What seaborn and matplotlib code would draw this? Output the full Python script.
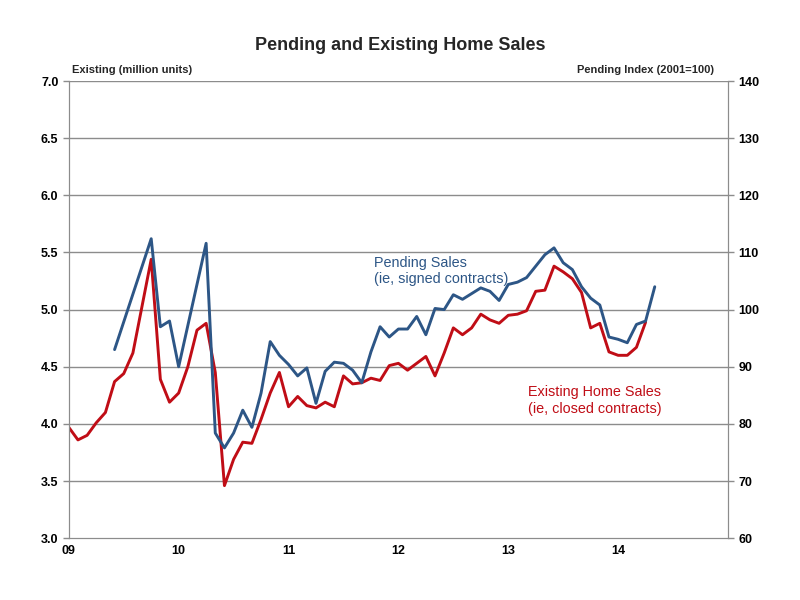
import pandas as pd
import numpy as np
import matplotlib.pyplot as plt
import seaborn as sns

# monthly values, month 0 = Jan 2009
existing = [3.97, 3.86, 3.90, 4.01, 4.10, 4.37, 4.44, 4.62, 5.03, 5.44,
            4.39, 4.19, 4.27, 4.50, 4.82, 4.88, 4.45, 3.46, 3.69, 3.84,
            3.83, 4.04, 4.27, 4.45, 4.15, 4.24, 4.16, 4.14, 4.19, 4.15,
            4.42, 4.35, 4.36, 4.40, 4.38, 4.51, 4.53, 4.47, 4.53, 4.59,
            4.42, 4.62, 4.84, 4.78, 4.84, 4.96, 4.91, 4.88, 4.95, 4.96,
            4.99, 5.16, 5.17, 5.38, 5.33, 5.27, 5.15, 4.84, 4.88, 4.63,
            4.60, 4.60, 4.67, 4.89]

# pending index starts Jun 2009, a few months missing (line joins across them)
pending_start = 5
pending = [93.0, np.nan, np.nan, np.nan, 112.4, 97.0, 98.0, 90.0, np.nan, np.nan,
           111.6, 78.4, 75.8, 78.4, 82.4, 79.4, 85.4, 94.4, 92.0, 90.4,
           88.4, 89.8, 83.6, 89.2, 90.8, 90.6, 89.4, 87.2, 92.6, 97.0,
           95.2, 96.6, 96.6, 98.8, 95.6, 100.2, 100.0, 102.6, 101.8, 102.8,
           103.8, 103.2, 101.6, 104.4, 104.8, 105.6, 107.6, 109.6, 110.8, 108.2,
           107.0, 104.0, 102.0, 100.8, 95.2, 94.8, 94.2, 97.4, 98.0, 104.0]

year_labels = ['09', '10', '11', '12', '13', '14']
left_ticks = [3.0, 3.5, 4.0, 4.5, 5.0, 5.5, 6.0, 6.5, 7.0]
right_ticks = [60, 70, 80, 90, 100, 110, 120, 130, 140]

blue = '#2D5686'
red = '#C00D16'
grey = '#8C8C8C'

ex_df = pd.DataFrame({'month': np.arange(len(existing)), 'value': existing})
pe_df = pd.DataFrame({'month': np.arange(pending_start, pending_start + len(pending)),
                      'value': pending}).dropna()

sns.set_style('white')
plt.rcParams['font.family'] = ['Liberation Sans', 'DejaVu Sans']

fig, ax = plt.subplots(figsize=(8, 6), dpi=100)
fig.subplots_adjust(left=0.086, right=0.910, bottom=0.103, top=0.865)
ax2 = ax.twinx()

sns.lineplot(data=ex_df, x='month', y='value', color=red, linewidth=2.1, ax=ax)
sns.lineplot(data=pe_df, x='month', y='value', color=blue, linewidth=2.1, ax=ax2)

ax.set_xlim(0, 72)
ax.set_ylim(3.0, 7.0)
ax2.set_ylim(60, 140)
ax.set_xticks(np.arange(0, 72, 12))
ax.set_xticklabels(year_labels)
ax.set_yticks(left_ticks)
ax.set_yticklabels([f'{t:.1f}' for t in left_ticks])
ax2.set_yticks(right_ticks)
ax2.set_yticklabels([str(t) for t in right_ticks])
ax.set_xlabel('')
ax.set_ylabel('')
ax2.set_ylabel('')

for t in left_ticks[1:]:
    ax.axhline(t, color=grey, linewidth=1, zorder=0)

for a in (ax, ax2):
    for s in a.spines.values():
        s.set_color(grey)
    a.spines['top'].set_visible(False)
    a.tick_params(axis='both', colors=grey, labelcolor='black', length=4,
                  width=1, labelsize=9)
    for lab in a.get_yticklabels() + a.get_xticklabels():
        lab.set_fontweight('bold')
ax.tick_params(axis='x', length=3, direction='inout')
ax.tick_params(axis='y', direction='out')
ax2.tick_params(axis='y', direction='out')

fig.text(0.5, 0.925, 'Pending and Existing Home Sales', ha='center', va='center',
         fontsize=13, fontweight='bold')
fig.text(0.09, 0.883, 'Existing (million units)', ha='left', va='center',
         fontsize=8, fontweight='bold')
fig.text(0.893, 0.883, 'Pending Index (2001=100)', ha='right', va='center',
         fontsize=8, fontweight='bold')

ax.text(0.463, 0.618, 'Pending Sales\n(ie, signed contracts)', transform=ax.transAxes,
        color=blue, fontsize=10.4, ha='left', va='top', linespacing=1.25)
ax.text(0.697, 0.334, 'Existing Home Sales\n(ie, closed contracts)', transform=ax.transAxes,
        color=red, fontsize=10.4, ha='left', va='top', linespacing=1.25)

plt.savefig('out.png', dpi=100)
